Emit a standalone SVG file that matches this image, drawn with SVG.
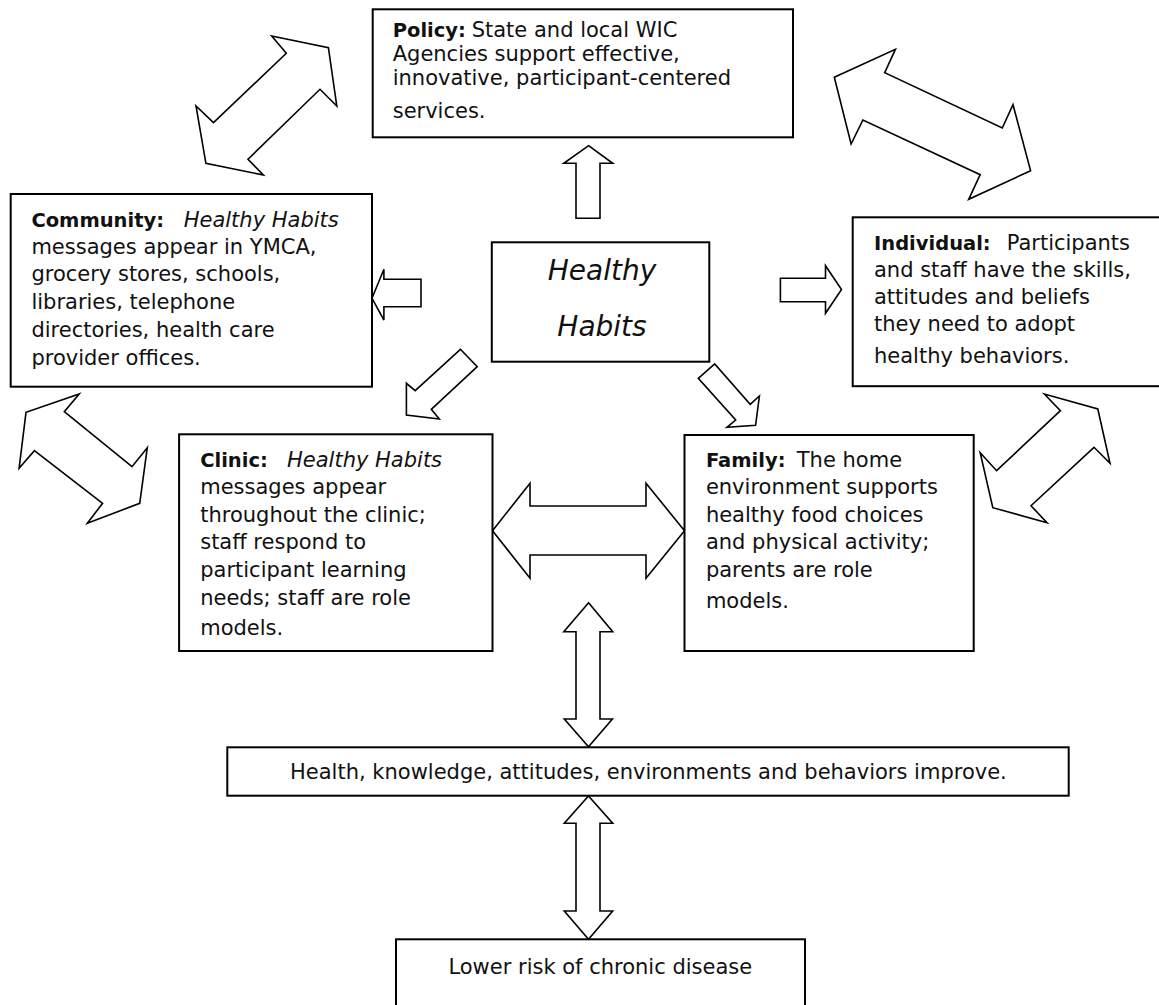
<svg xmlns="http://www.w3.org/2000/svg" width="1159" height="1005" viewBox="0 0 1159 1005">
<style>
  .box { fill: #ffffff; stroke: #000000; stroke-width: 2; }
  .arr { fill: #ffffff; stroke: #000000; stroke-width: 1.6; stroke-linejoin: miter; }
  .t { font-family: "DejaVu Sans", "Liberation Sans", sans-serif; font-size: 21px; fill: #111111; }
  .b { font-weight: bold; font-size: 19.5px; }
  .i { font-style: italic; }
  .hh { font-family: "DejaVu Sans", "Liberation Sans", sans-serif; font-size: 28px; font-style: italic; fill: #111111; text-anchor: middle; }
  .c { text-anchor: middle; }
</style>
<rect x="0" y="0" width="1159" height="1005" fill="#ffffff"/>

<g id="connectors">
  <polygon class="arr" points="271.7,36 328.4,47.7 336.8,106 320,89.3 248,159.3 263.3,175 205.9,163.3 196,106 213.5,122.7 286.3,53.3"/>
  <polygon class="arr" points="895.4,49.3 884.7,72.7 1002.3,128 1013,104.7 1030.6,170.7 968.7,199.3 980.2,174.7 862.9,120 851.1,144 834.3,77.3"/>
  <polygon class="arr" points="79.2,394 64.3,411.7 132,466.7 147.3,447.7 139.7,503.3 87.3,523.3 102.6,503.3 34.4,450.7 19.1,468.3 26,412.3"/>
  <polygon class="arr" points="1044.3,394 1060.4,410.7 996.6,470.7 980.2,452.7 992.8,507.7 1047,522.7 1031,505.7 1094,447.3 1110,463.3 1097.8,409"/>
  <polygon class="arr" points="588.6,145.7 612.7,163.3 600,163.3 600,218.3 576,218.3 576,163.3 563.8,163.3"/>
  <polygon class="arr" points="372,298.3 383.9,269.3 383.9,279.3 421,279.3 421,306.7 383.9,306.7 383.9,320"/>
  <polygon class="arr" points="780.4,278.3 825.5,278.3 825.5,265.7 841.5,289.5 825.5,313.3 825.5,301.7 780.4,301.7"/>
  <polygon class="arr" points="460.4,349.3 477.2,366.7 431.3,409.3 439.3,419 406.4,415 406.4,383.3 415.2,390.7"/>
  <polygon class="arr" points="698.3,378.3 714.7,364 750.2,404.3 759.4,396 755.6,425.3 726.9,427.3 735.7,420"/>
  <polygon class="arr" points="492.5,530.7 530,483.3 530,506 646,506 646,483.3 684.5,530.7 646,578.3 646,555 530,555 530,578.3"/>
  <polygon class="arr" points="588.6,602.7 612.7,631.7 600,631.7 600,719 612.4,719 588.5,746.7 564.3,719 576,719 576,631.7 563.8,631.7"/>
  <polygon class="arr" points="588.5,796 612.7,823.3 600,823.3 600,911 612.7,911 588.5,939.3 564.3,911 576,911 576,823.3 564.3,823.3"/>
</g>

<g id="policy">
  <rect class="box" x="372.7" y="9.3" width="420.3" height="128"/>
  <text class="t" x="392.7" y="37.3"><tspan class="b">Policy:</tspan><tspan x="471.7">State and local WIC</tspan></text>
  <text class="t" x="392.7" y="61">Agencies support effective,</text>
  <text class="t" x="392.7" y="84.5">innovative, participant-centered</text>
  <text class="t" x="392.7" y="118">services.</text>
</g>

<g id="community">
  <rect class="box" x="10.7" y="194" width="361.3" height="192.7"/>
  <text class="t" x="31.4" y="226.5"><tspan class="b">Community:</tspan><tspan class="i" x="183.7">Healthy Habits</tspan></text>
  <text class="t" x="31.4" y="253.5">messages appear in YMCA,</text>
  <text class="t" x="31.4" y="281">grocery stores, schools,</text>
  <text class="t" x="31.4" y="308.5">libraries, telephone</text>
  <text class="t" x="31.4" y="336.5">directories, health care</text>
  <text class="t" x="31.4" y="364.5">provider offices.</text>
</g>

<g id="healthy-habits">
  <rect class="box" x="491.8" y="242.3" width="217.5" height="119.4"/>
  <text class="hh" x="602" y="279.5">Healthy</text>
  <text class="hh" x="602" y="336">Habits</text>
</g>

<g id="individual">
  <rect class="box" x="852.7" y="217.3" width="312" height="168.9"/>
  <text class="t" x="874" y="250"><tspan class="b">Individual:</tspan><tspan x="1006.7">Participants</tspan></text>
  <text class="t" x="874" y="276.5">and staff have the skills,</text>
  <text class="t" x="874" y="303.5">attitudes and beliefs</text>
  <text class="t" x="874" y="330.5">they need to adopt</text>
  <text class="t" x="874" y="363">healthy behaviors.</text>
</g>

<g id="clinic">
  <rect class="box" x="179.1" y="434.3" width="313.4" height="216.7"/>
  <text class="t" x="200.2" y="466.7"><tspan class="b">Clinic:</tspan><tspan class="i" x="287">Healthy Habits</tspan></text>
  <text class="t" x="200.2" y="494.3">messages appear</text>
  <text class="t" x="200.2" y="521.7">throughout the clinic;</text>
  <text class="t" x="200.2" y="549.3">staff respond to</text>
  <text class="t" x="200.2" y="577.3">participant learning</text>
  <text class="t" x="200.2" y="605">needs; staff are role</text>
  <text class="t" x="200.2" y="635">models.</text>
</g>

<g id="family">
  <rect class="box" x="684.5" y="435" width="289.2" height="216"/>
  <text class="t" x="705.9" y="466.7"><tspan class="b">Family:</tspan><tspan x="796.8">The home</tspan></text>
  <text class="t" x="705.9" y="494.3">environment supports</text>
  <text class="t" x="705.9" y="521.7">healthy food choices</text>
  <text class="t" x="705.9" y="549.3">and physical activity;</text>
  <text class="t" x="705.9" y="577.3">parents are role</text>
  <text class="t" x="705.9" y="607.7">models.</text>
</g>

<g id="outcomes">
  <rect class="box" x="227.3" y="747.3" width="841.4" height="48.4"/>
  <text class="t c" x="648.4" y="779.3">Health, knowledge, attitudes, environments and behaviors improve.</text>
</g>

<g id="lower-risk">
  <rect class="box" x="396" y="939.3" width="409" height="75"/>
  <text class="t c" x="600.3" y="974">Lower risk of chronic disease</text>
</g>
</svg>
